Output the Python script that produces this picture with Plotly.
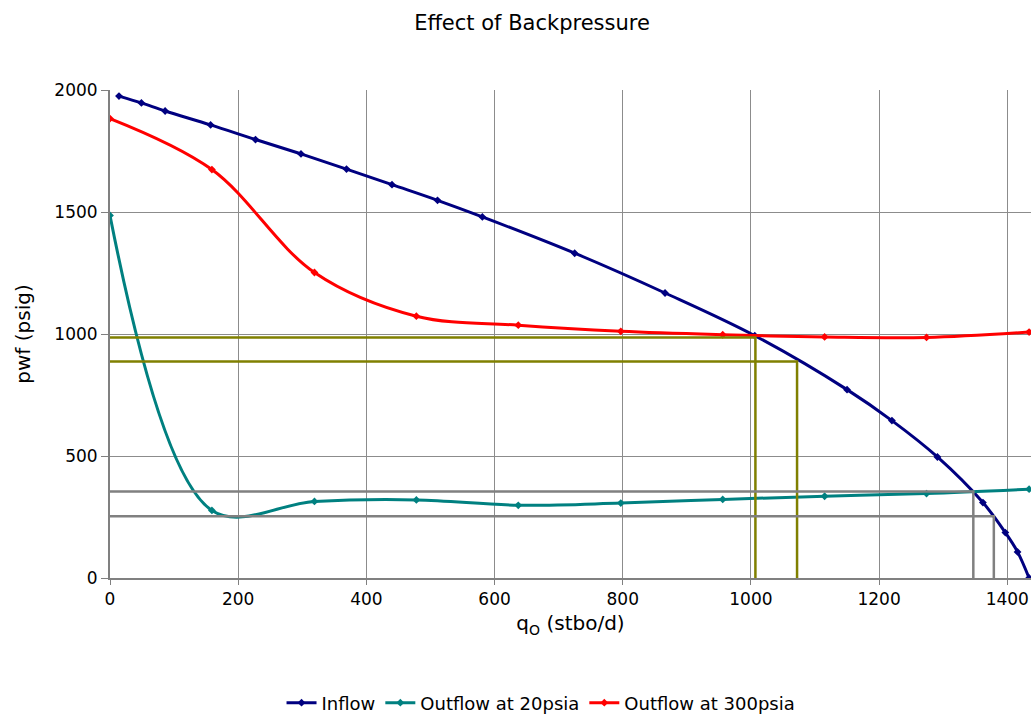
import plotly.graph_objects as go

# Inflow performance (IPR) curve
inflow_q = [14, 49, 86, 157, 227, 298, 369, 440, 511, 581, 725, 866, 1006,
            1150, 1220, 1291, 1362, 1397, 1416, 1434]
inflow_p = [1975, 1947, 1914, 1857, 1797, 1738, 1676, 1612, 1548, 1480, 1331,
            1168, 993, 772, 645, 496, 309, 186, 107, 0]

# Outflow (tubing) curves at two wellhead backpressures
outflow_q = [0, 159, 319, 478, 637, 797, 956, 1115, 1274, 1434]
outflow20_p = [1486, 277, 314, 320, 298, 307, 322, 335, 346, 364]
outflow300_p = [1883, 1674, 1252, 1073, 1036, 1011, 997, 988, 986, 1008]

# Operating-point construction lines (rate, pressure)
olive_q = [1007, 1072]
olive_p = [986, 887]
gray_q = [1347, 1379]
gray_p = [355, 253]

NAVY = "#000080"
TEAL = "#008080"
RED = "#FF0000"
OLIVE = "#808000"
GRAY = "#808080"
FONT = "DejaVu Sans"

fig = go.Figure()

series = [
    ("Inflow", inflow_q, inflow_p, NAVY),
    ("Outflow at 20psia", outflow_q, outflow20_p, TEAL),
    ("Outflow at 300psia", outflow_q, outflow300_p, RED),
]
for name, xs, ys, col in series:
    fig.add_trace(go.Scatter(
        x=xs, y=ys, name=name, mode="lines+markers",
        line=dict(color=col, width=3, shape="spline", smoothing=1.0),
        marker=dict(color=col, size=6, symbol="diamond"),
    ))

for qs, ps, col in [(olive_q, olive_p, OLIVE), (gray_q, gray_p, GRAY)]:
    for q, p in zip(qs, ps):
        fig.add_trace(go.Scatter(
            x=[0, q, q], y=[p, p, 0], mode="lines",
            line=dict(color=col, width=2.5), showlegend=False,
            hoverinfo="skip",
        ))

fig.update_layout(
    width=1034, height=715,
    margin=dict(l=110, r=3, t=90, b=137, autoexpand=False),
    paper_bgcolor="white", plot_bgcolor="white",
    font=dict(family=FONT, size=17, color="black"),
    title=dict(text="Effect of Backpressure", x=0.5145, xanchor="center",
               y=0.968, yanchor="middle", font=dict(size=21)),
    legend=dict(orientation="h", x=0.468, xanchor="center", y=-0.256,
                yanchor="middle", font=dict(size=18), itemwidth=30,
                tracegroupgap=0),
    showlegend=True,
)
fig.update_xaxes(
    range=[0, 1437], tickvals=[0, 200, 400, 600, 800, 1000, 1200, 1400],
    showgrid=True, gridcolor="#8c8c8c", gridwidth=1,
    showline=True, linecolor=GRAY, linewidth=2,
    ticks="outside", ticklen=5, tickcolor=GRAY, zeroline=False,
    title=dict(text="q<sub>O</sub> (stbo/d)", standoff=8),
)
fig.update_yaxes(
    range=[0, 2000], tickvals=[0, 500, 1000, 1500, 2000],
    showgrid=True, gridcolor="#8c8c8c", gridwidth=1,
    showline=True, linecolor=GRAY, linewidth=2,
    ticks="outside", ticklen=7, tickcolor=GRAY, zeroline=False,
    title=dict(text="pwf (psig)", standoff=18),
)

fig.write_html("out.html")
